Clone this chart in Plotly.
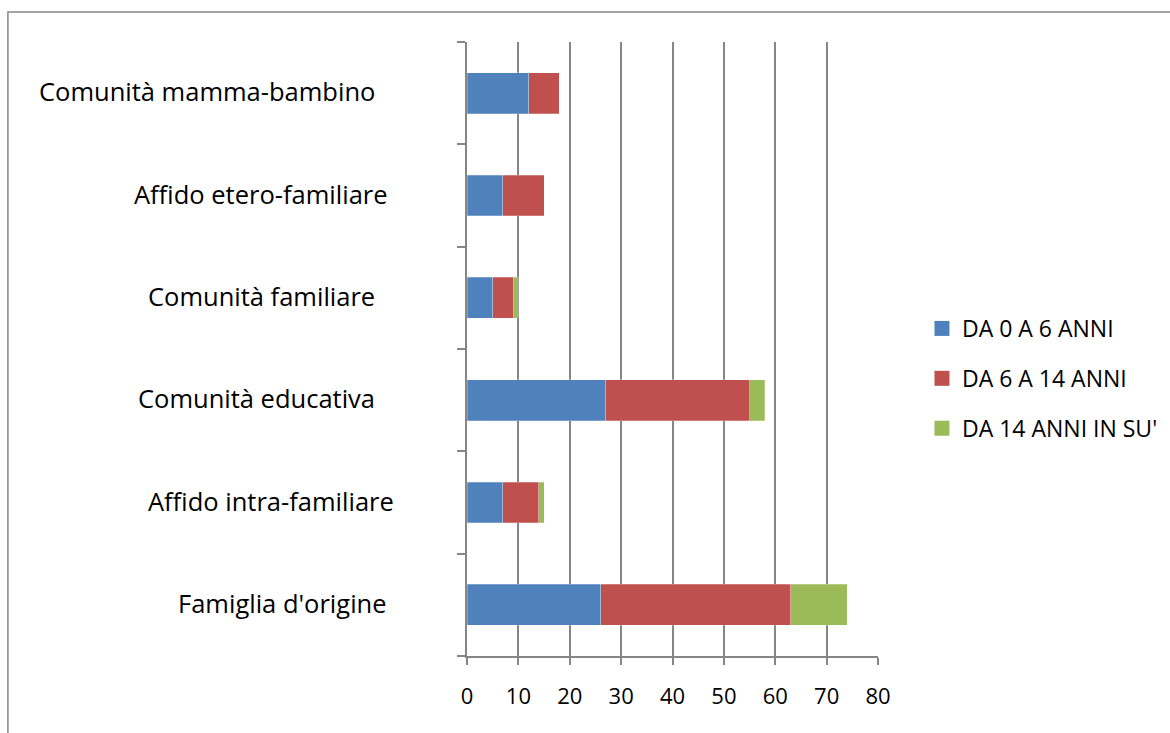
import plotly.graph_objects as go

# Categories listed bottom to top as drawn on the category axis
categories = [
    "Famiglia d'origine",
    "Affido intra-familiare",
    "Comunità educativa",
    "Comunità familiare",
    "Affido etero-familiare",
    "Comunità mamma-bambino",
]
series_names = ["DA 0 A 6 ANNI", "DA 6 A 14 ANNI", "DA 14 ANNI IN SU'"]
age_0_6 = [26, 7, 27, 5, 7, 12]
age_6_14 = [37, 7, 28, 4, 8, 6]
age_14_up = [11, 1, 3, 1, 0, 0]
x_ticks = [0, 10, 20, 30, 40, 50, 60, 70, 80]

colors = ["#4F81BD", "#C0504D", "#9BBB59"]
font_family = "Open Sans, DejaVu Sans, sans-serif"
grid_color = "#868686"

# Right edge (px from plot left) of each category label, bottom to top
label_shift = [-78, -71, -90, -90, -77, -90]

fig = go.Figure()
for name, vals, col in zip(series_names, [age_0_6, age_6_14, age_14_up], colors):
    fig.add_trace(go.Bar(
        y=categories, x=vals, name=name, orientation="h",
        marker=dict(color=col, line=dict(color="rgba(255,255,255,0.5)", width=0.5)),
        showlegend=False,
    ))

# Legend entries with larger square swatches
for name, col in zip(series_names, colors):
    fig.add_trace(go.Scatter(
        x=[None], y=[None], mode="markers", name=name,
        marker=dict(symbol="square", size=15, color=col),
        legendgroup=name, showlegend=True,
    ))

for cat, shift in zip(categories, label_shift):
    fig.add_annotation(
        x=0, xref="paper", y=cat, yref="y", text=cat, showarrow=False,
        xanchor="right", xshift=shift, yshift=2, yanchor="middle",
        font=dict(family=font_family, size=25.5, color="#000000"),
    )

# Outer chart frame
fig.add_shape(
    type="rect", xref="paper", yref="paper",
    x0=-1.117, x1=1.75, y0=-0.15, y1=1.0489,
    line=dict(color="#868686", width=1.5), fillcolor="rgba(0,0,0,0)", layer="below",
)

fig.update_layout(
    width=1170, height=733,
    margin=dict(l=467, r=292, t=42, b=77, autoexpand=False),
    paper_bgcolor="white", plot_bgcolor="white",
    barmode="stack", bargap=0.6,
    font=dict(family=font_family, size=22, color="#000000"),
    showlegend=True,
    legend=dict(
        x=1.107, xanchor="left", y=0.452, yanchor="middle",
        traceorder="grouped", tracegroupgap=17, itemsizing="trace",
        font=dict(family=font_family, size=23, color="#000000"),
        itemwidth=30, bgcolor="rgba(0,0,0,0)",
    ),
    xaxis=dict(
        range=[0, 80], tickvals=x_ticks, ticktext=[str(v) for v in x_ticks],
        showgrid=True, gridcolor=grid_color, gridwidth=1.5,
        showline=True, linecolor=grid_color, linewidth=1.5,
        ticks="outside", ticklen=7, tickcolor=grid_color, tickwidth=1.5,
        ticklabelstandoff=13, zeroline=False,
        tickfont=dict(family=font_family, size=22),
    ),
    yaxis=dict(
        type="category", categoryorder="array", categoryarray=categories,
        showticklabels=False, showgrid=False,
        showline=True, linecolor=grid_color, linewidth=1.5,
        ticks="outside", ticklen=8, tickcolor=grid_color, tickwidth=1.5,
        tickson="boundaries",
    ),
)

fig.write_html("out.html")
